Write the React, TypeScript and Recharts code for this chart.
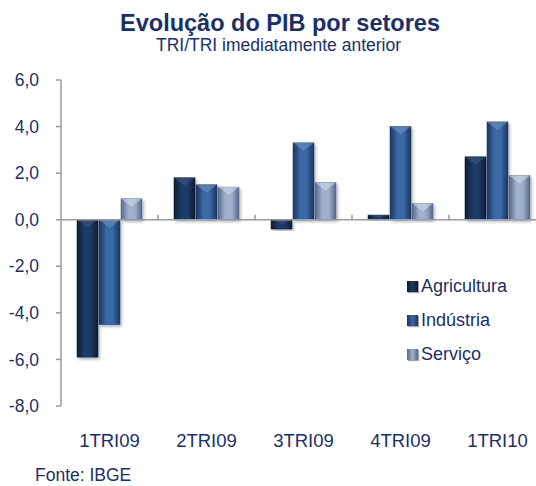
import React from 'react';
import { BarChart, Bar, XAxis, YAxis, ReferenceLine } from 'recharts';

const periods = ['1TRI09', '2TRI09', '3TRI09', '4TRI09', '1TRI10'];
const agricultura = [-5.9, 1.8, -0.4, 0.2, 2.7];
const industria = [-4.5, 1.5, 3.3, 4.0, 4.2];
const servico = [0.9, 1.4, 1.6, 0.7, 1.9];
const yTicks = [-8, -6, -4, -2, 0, 2, 4, 6];

const data = periods.map((periodo, i) => ({
  periodo,
  agricultura: agricultura[i],
  industria: industria[i],
  servico: servico[i],
}));

const series = [
  { key: 'agricultura', name: 'Agricultura', edge: '#0c1a33', mid: '#1f3a66', bevel: '#3a5584' },
  { key: 'industria', name: 'Indústria', edge: '#1a3560', mid: '#3b69a6', bevel: '#6f94c6' },
  { key: 'servico', name: 'Serviço', edge: '#56678a', mid: '#a0b0cc', bevel: '#d2dcec' },
];

const navy = '#1b3068';
const font = '"Liberation Sans", Arial, sans-serif';

const makeShape = (s: typeof series[number]) => (props: any) => {
  let { x, y, width, height } = props;
  if (height < 0) {
    y += height;
    height = -height;
  }
  const b = Math.min(8, height / 2, width / 2);
  return (
    <g filter="url(#barShadow)">
      <rect x={x} y={y} width={width} height={height} fill={`url(#grad-${s.key})`} stroke={s.edge} strokeWidth={0.5} />
      <polygon
        points={`${x},${y} ${x + width},${y} ${x + width / 2},${y + b}`}
        fill={s.bevel}
        opacity={0.55}
      />
    </g>
  );
};

// zero line with the small category ticks pointing up
const ZeroAxis = (props: any) => {
  const { x1, y1, x2 } = props;
  const step = (x2 - x1) / periods.length;
  return (
    <g>
      <line x1={x1} y1={y1} x2={x2} y2={y1} stroke="#9a9a9a" strokeWidth={1.5} />
      {periods.slice(1).map((p, i) => (
        <line key={p} x1={x1 + step * (i + 1)} y1={y1} x2={x1 + step * (i + 1)} y2={y1 - 5} stroke="#9a9a9a" strokeWidth={1.5} />
      ))}
    </g>
  );
};

const LegendBox = () => (
  <div style={{ position: 'absolute', left: 407, top: 269, fontFamily: font }}>
    {series.map((s) => (
      <div key={s.key} style={{ display: 'flex', alignItems: 'center', height: 34 }}>
        <span
          style={{
            width: 11,
            height: 11,
            marginRight: 3,
            background: `linear-gradient(90deg, ${s.edge}, ${s.mid}, ${s.edge})`,
            boxShadow: '1px 1px 1px rgba(0,0,0,0.35)',
          }}
        />
        <span style={{ fontSize: 18, color: navy, lineHeight: '20px' }}>{s.name}</span>
      </div>
    ))}
  </div>
);

export default function App() {
  return (
    <div style={{ position: 'fixed', left: 0, top: 0, width: 536, height: 486, overflow: 'hidden', background: '#fff' }}>
      <div style={{ position: 'absolute', left: 0, width: 560, top: 12, textAlign: 'center', fontFamily: font, color: navy, fontWeight: 'bold', fontSize: 23.5, lineHeight: '22px' }}>
        Evolução do PIB por setores
      </div>
      <div style={{ position: 'absolute', left: 0, width: 557, top: 36, textAlign: 'center', fontFamily: font, color: navy, fontSize: 17.5, lineHeight: '18px' }}>
        TRI/TRI imediatamente anterior
      </div>
      <BarChart
        width={560}
        height={486}
        data={data}
        margin={{ top: 80, right: 14, bottom: 40, left: 0 }}
        barSize={21}
        barGap={1}
      >
        <defs>
          {series.map((s) => (
            <linearGradient key={s.key} id={`grad-${s.key}`} x1="0" y1="0" x2="1" y2="0">
              <stop offset="0%" stopColor={s.edge} />
              <stop offset="35%" stopColor={s.mid} />
              <stop offset="65%" stopColor={s.mid} />
              <stop offset="100%" stopColor={s.edge} />
            </linearGradient>
          ))}
          <filter id="barShadow" x="-30%" y="-10%" width="160%" height="130%">
            <feDropShadow dx="1.5" dy="2" stdDeviation="1.5" floodColor="#000" floodOpacity="0.3" />
          </filter>
        </defs>
        <XAxis
          dataKey="periodo"
          axisLine={false}
          tickLine={false}
          height={40}
          tickMargin={22}
          tick={{ fill: navy, fontSize: 18.5, fontFamily: font }}
        />
        <YAxis
          domain={[-8, 6]}
          ticks={yTicks}
          width={61}
          tickSize={5}
          tickMargin={17}
          axisLine={{ stroke: '#9a9a9a', strokeWidth: 1.5 }}
          tickLine={{ stroke: '#9a9a9a', strokeWidth: 1.5 }}
          tickFormatter={(v: number) => v.toFixed(1).replace('.', ',')}
          tick={{ fill: navy, fontSize: 17.5, fontFamily: font }}
          interval={0}
        />
        {series.map((s) => (
          <Bar key={s.key} dataKey={s.key} name={s.name} shape={makeShape(s)} isAnimationActive={false} />
        ))}
        <ReferenceLine y={0} shape={ZeroAxis} />
      </BarChart>
      <LegendBox />
      <div style={{ position: 'absolute', left: 35, top: 466, fontFamily: font, color: navy, fontSize: 17.5, lineHeight: '18px' }}>
        Fonte: IBGE
      </div>
    </div>
  );
}
